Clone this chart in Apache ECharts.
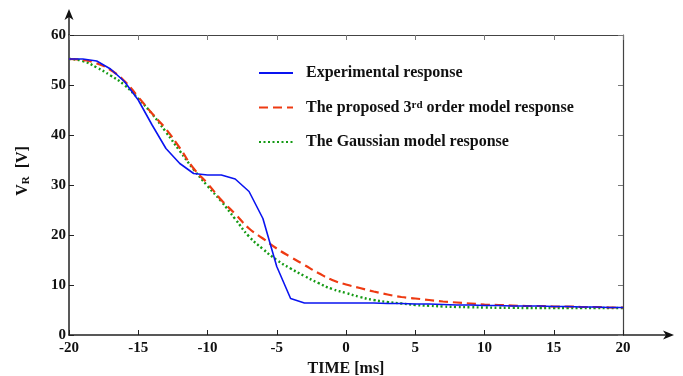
<!DOCTYPE html>
<html>
<head>
<meta charset="utf-8">
<script src="https://cdn.jsdelivr.net/npm/echarts@6/dist/echarts.min.js"></script>
<style>
  html, body { margin: 0; padding: 0; background: #fff; }
  #main { width: 683px; height: 376px; }
</style>
</head>
<body>
<div id="main"></div>
<script>
// time axis in ms
var time = [-20, -19, -18, -17, -16, -15, -14, -13, -12, -11, -10, -9, -8, -7, -6, -5, -4, -3, -2, -1,
  0, 1, 2, 3, 4, 5, 6, 7, 8, 9, 10, 11, 12, 13, 14, 15, 16, 17, 18, 19, 20];

var experimental = [55.2, 55.2, 54.8, 53.2, 50.7, 47.0, 42.0, 37.3, 34.3, 32.3, 32.0, 32.0, 31.2, 28.7, 23.3, 13.7, 7.3, 6.4, 6.4, 6.4,
  6.4, 6.4, 6.4, 6.3, 6.3, 6.2, 6.2, 6.1, 6.0, 6.0, 5.9, 5.9, 5.8, 5.8, 5.8, 5.7, 5.7, 5.6, 5.6, 5.5, 5.5];

var thirdOrder = [55.2, 55.0, 54.3, 53.0, 50.8, 47.6, 44.3, 41.2, 37.4, 33.3, 30.3, 27.0, 24.2, 21.3, 19.3, 17.3, 15.6, 14.0, 12.4, 11.0,
  10.1, 9.4, 8.7, 8.1, 7.6, 7.3, 7.0, 6.7, 6.5, 6.3, 6.1, 6.0, 5.9, 5.8, 5.8, 5.7, 5.7, 5.6, 5.6, 5.5, 5.5];

var gaussian = [55.2, 54.8, 53.5, 51.9, 50.0, 47.3, 44.2, 40.6, 36.8, 33.1, 29.8, 26.7, 23.2, 19.7, 17.2, 15.0, 13.3, 11.8, 10.4, 9.2,
  8.4, 7.6, 7.0, 6.6, 6.3, 6.0, 5.85, 5.7, 5.6, 5.55, 5.5, 5.45, 5.45, 5.4, 5.4, 5.4, 5.4, 5.4, 5.4, 5.4, 5.4];

var xTicks = { min: -20, max: 20, step: 5 };
var yTicks = { min: 0, max: 60, step: 10 };

var seriesNames = ['Experimental response', 'The proposed 3rd order model response', 'The Gaussian model response'];

function pairs(ys) {
  return time.map(function (t, i) { return [t, ys[i]]; });
}

var chart = echarts.init(document.getElementById('main'), null, { renderer: 'canvas' });

var serif = 'Liberation Serif';
var axisColor = '#222';
var labelStyle = { fontFamily: serif, fontWeight: 'bold', fontSize: 15, color: '#111' };

var option = {
  backgroundColor: '#fff',
  animation: false,
  grid: { left: 69, right: 60, top: 35, bottom: 41, containLabel: false, outerBoundsMode: 'none' },
  legend: {
    orient: 'vertical',
    left: 253,
    top: 60,
    itemWidth: 34,
    itemHeight: 16,
    itemGap: 18.5,
    data: seriesNames,
    itemStyle: { opacity: 0 },
    formatter: function (name) {
      if (name === seriesNames[1]) {
        return 'The proposed 3{sup|rd} order model response';
      }
      return name;
    },
    textStyle: {
      fontFamily: serif, fontWeight: 'bold', fontSize: 16, color: '#111',
      lineHeight: 16,
      padding: [0, 0, 0, 8],
      rich: {
        sup: { fontFamily: serif, fontWeight: 'bold', fontSize: 11, color: '#111', verticalAlign: 'top', padding: [0, 0, 8, 0] }
      }
    }
  },
  xAxis: [
    {
      type: 'value', min: xTicks.min, max: xTicks.max, interval: xTicks.step,
      name: 'TIME [ms]', nameLocation: 'middle', nameGap: 19,
      nameTextStyle: { fontFamily: serif, fontWeight: 'bold', fontSize: 16, color: '#111' },
      axisLine: { onZero: false, lineStyle: { color: axisColor, width: 1.5 } },
      axisTick: { inside: true, length: 5, lineStyle: { color: axisColor } },
      axisLabel: Object.assign({ margin: 6 }, labelStyle),
      splitLine: { show: false }
    },
    {
      type: 'value', position: 'top', min: xTicks.min, max: xTicks.max, interval: xTicks.step,
      axisLine: { onZero: false, lineStyle: { color: '#444', width: 1.2 } },
      axisTick: { inside: true, length: 5, lineStyle: { color: '#777' } },
      axisLabel: { show: false },
      splitLine: { show: false }
    }
  ],
  yAxis: [
    {
      type: 'value', min: yTicks.min, max: yTicks.max, interval: yTicks.step,
      name: '{v|V}{sub|R}{v|  [V]}', nameLocation: 'middle', nameGap: 37, nameRotate: 90,
      nameTextStyle: {
        padding: [0, 0, 0, 28],
        rich: {
          v: { fontFamily: serif, fontWeight: 'bold', fontSize: 16, color: '#111' },
          sub: { fontFamily: serif, fontWeight: 'bold', fontSize: 11, color: '#111', verticalAlign: 'bottom', padding: [8, 0, 0, 0] }
        }
      },
      axisLine: { show: true, onZero: false, lineStyle: { color: axisColor, width: 1.5 } },
      axisTick: { show: true, inside: true, length: 5, lineStyle: { color: axisColor } },
      axisLabel: Object.assign({ margin: 3 }, labelStyle),
      splitLine: { show: false }
    },
    {
      type: 'value', position: 'right', min: yTicks.min, max: yTicks.max, interval: yTicks.step,
      axisLine: { show: true, onZero: false, lineStyle: { color: '#444', width: 1.2 } },
      axisTick: { show: true, inside: true, length: 5, lineStyle: { color: '#777' } },
      axisLabel: { show: false },
      splitLine: { show: false }
    }
  ],
  graphic: [
    // axis arrows
    { type: 'line', shape: { x1: 623, y1: 335, x2: 671, y2: 335 }, style: { stroke: axisColor, lineWidth: 1.5 } },
    { type: 'polygon', shape: { points: [[674, 335], [663, 330.5], [666, 335], [663, 339.5]] }, style: { fill: '#111' } },
    { type: 'line', shape: { x1: 69, y1: 35, x2: 69, y2: 13 }, style: { stroke: axisColor, lineWidth: 1.5 } },
    { type: 'polygon', shape: { points: [[69, 9], [64.5, 20], [69, 17], [73.5, 20]] }, style: { fill: '#111' } }
  ],
  series: [
    {
      name: seriesNames[0], type: 'line', symbol: 'none', smooth: false,
      data: pairs(experimental),
      lineStyle: { color: '#0a14f0', width: 1.6 },
      itemStyle: { color: '#0a14f0' },
      z: 3
    },
    {
      name: seriesNames[1], type: 'line', symbol: 'none', smooth: true,
      data: pairs(thirdOrder),
      lineStyle: { color: '#ee3a12', width: 2.2, type: [9, 5] },
      itemStyle: { color: '#ee3a12' },
      z: 2
    },
    {
      name: seriesNames[2], type: 'line', symbol: 'none', smooth: true,
      data: pairs(gaussian),
      lineStyle: { color: '#149a14', width: 2.4, type: [2, 2.5] },
      itemStyle: { color: '#149a14' },
      z: 1
    }
  ]
};

chart.setOption(option);
</script>
</body>
</html>
